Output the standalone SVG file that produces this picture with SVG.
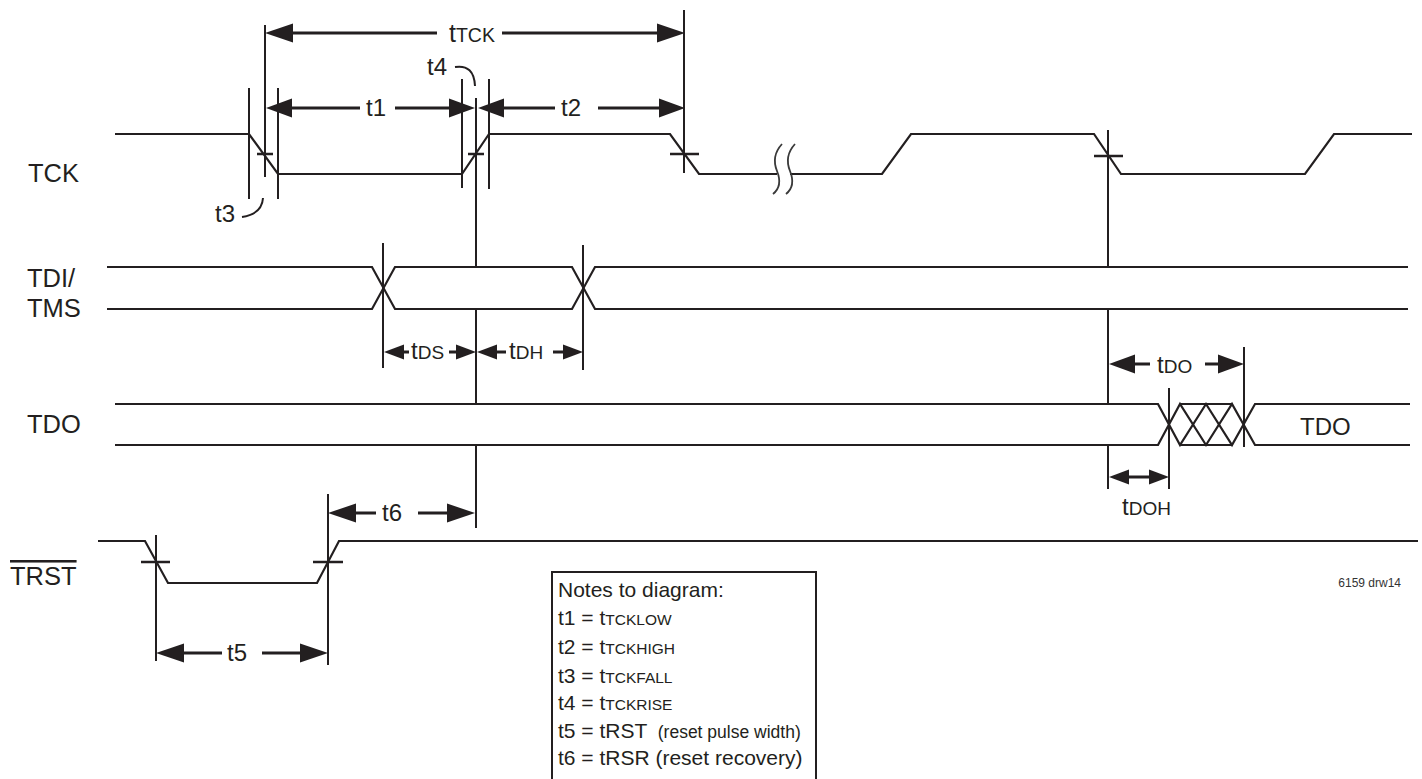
<svg xmlns="http://www.w3.org/2000/svg" xmlns:xlink="http://www.w3.org/1999/xlink" width="1422" height="779" viewBox="0 0 1422 779">
<style>
.sig{fill:none;stroke:#231f20;stroke-width:2.2;stroke-linejoin:miter}
.vl{fill:none;stroke:#231f20;stroke-width:2}
.sh{fill:none;stroke:#231f20;stroke-width:3}
.tk{fill:none;stroke:#231f20;stroke-width:2.5}
.brk{fill:none;stroke:#3a3a3a;stroke-width:1.8}
.hook{fill:none;stroke:#231f20;stroke-width:2}
.ah{fill:#231f20}
text{font-family:"Liberation Sans",Arial,Helvetica,sans-serif;fill:#231f20}
.lbl{font-size:25.5px}
.tm{font-size:24px}
.sub{font-size:19px}
.note{font-size:21px}
.ns{font-size:15.5px}
.np{font-size:17.5px}
.drw{font-size:12px;fill:#333}
</style>
<defs>
<path id="aL" class="ah" d="M0,0 L28,-9.5 L28,9.5 Z"/>
<path id="aR" class="ah" d="M0,0 L-28,-9.5 L-28,9.5 Z"/>
<path id="mL" class="ah" d="M0,0 L26,-9.5 L26,9.5 Z"/>
<path id="mR" class="ah" d="M0,0 L-26,-9.5 L-26,9.5 Z"/>
<path id="sL" class="ah" d="M0,0 L20,-7.5 L20,7.5 Z"/>
<path id="sR" class="ah" d="M0,0 L-20,-7.5 L-20,7.5 Z"/>
</defs>
<rect width="1422" height="779" fill="#ffffff"/>

<g id="labels">
<text class="lbl" x="28" y="182">TCK</text>
<text class="lbl" x="27" y="287">TDI/</text>
<text class="lbl" x="27" y="317">TMS</text>
<text class="lbl" x="27" y="433">TDO</text>
<text class="lbl" x="10" y="585" text-decoration="overline">TRST</text>
</g>

<g id="tck">
<path class="sig" d="M115,134 H249 L278,174 H462 L489,134 H670 L699,174 H777 M790,174 H882 L911,134 H1094 L1121,174 H1305 L1334,134 H1412"/>
<path class="brk" d="M782,144 Q771,156 777,171 Q783,186 773,194"/>
<path class="brk" d="M795,144 Q784,156 790,171 Q796,186 786,194"/>
</g>

<g id="tdi-tms">
<path class="sig" d="M107,267 H372 L395,309 H572 L595,267 H1408"/>
<path class="sig" d="M107,309 H372 L395,267 H572 L595,309 H1408"/>
</g>

<g id="tdo">
<path class="sig" d="M115,404 H1158 L1180,445 L1206,404 L1232,445 L1255,404 H1410"/>
<path class="sig" d="M115,445 H1158 L1180,404 L1206,445 L1232,404 L1255,445 H1410"/>
<path class="sig" d="M1180,404 H1232 M1180,445 H1232"/>
<text class="lbl" x="1300" y="435" style="font-size:24px">TDO</text>
</g>

<g id="trst">
<path class="sig" d="M98,541 H145 L168,583 H317 L339,541 H1418"/>
</g>

<g id="connectors">
<path class="vl" d="M249,88 V199 M265,25 V177 M278,88 V199 M462,79 V188 M489,79 V189 M684,10 V173"/>
<path class="vl" d="M476,98 V267 M476,309 V404 M476,445 V528"/>
<path class="vl" d="M1108,130 V267 M1108,309 V404 M1108,445 V489"/>
<path class="vl" d="M383,243 V368 M583,245 V370"/>
<path class="vl" d="M1244,347 V447 M1169,388 V489"/>
<path class="vl" d="M156,535 V661 M328,494 V665"/>
<path class="tk" d="M257,154 H273 M468,154 H484 M670,154 H699 M1094,156 H1123 M141,562 H170 M313,562 H343"/>
<path class="hook" d="M242,217 Q262,214 263,198"/>
<path class="hook" d="M455,67 Q474,64 475,86"/>

<g id="arrow-ttck">
<path class="sh" d="M285,33 H437 M502,33 H665"/>
<use xlink:href="#aL" x="265" y="33"/>
<use xlink:href="#aR" x="685" y="33"/>
<text class="tm" x="449" y="42" style="font-size:25px">t<tspan style="font-size:19.5px">TCK</tspan></text>
</g>
<g id="arrow-t1">
<path class="sh" d="M285,108 H360 M395,108 H457"/>
<use xlink:href="#mL" x="266" y="108"/>
<use xlink:href="#mR" x="475" y="108"/>
<text class="tm" x="366" y="116">t1</text>
</g>
<g id="arrow-t2">
<path class="sh" d="M497,108 H555 M598,108 H665"/>
<use xlink:href="#mL" x="478" y="108"/>
<use xlink:href="#mR" x="685" y="108"/>
<text class="tm" x="561" y="116">t2</text>
</g>
<text class="tm" x="215" y="222">t3</text>
<text class="tm" x="427" y="75">t4</text>
<g id="arrow-tds">
<path class="sh" d="M398,352 H409 M449,352 H462"/>
<use xlink:href="#sL" x="384" y="352"/>
<use xlink:href="#sR" x="476" y="352"/>
<text class="tm" x="411" y="359">t<tspan class="sub">DS</tspan></text>
</g>
<g id="arrow-tdh">
<path class="sh" d="M492,352 H506 M553,352 H568"/>
<use xlink:href="#sL" x="477" y="352"/>
<use xlink:href="#sR" x="583" y="352"/>
<text class="tm" x="509" y="359">t<tspan class="sub">DH</tspan></text>
</g>
<g id="arrow-tdo">
<path class="sh" d="M1125,364 H1150 M1205,364 H1228"/>
<use xlink:href="#mL" x="1109" y="364"/>
<use xlink:href="#mR" x="1244" y="364"/>
<text class="tm" x="1157" y="373">t<tspan class="sub">DO</tspan></text>
</g>
<g id="arrow-tdoh">
<path class="sh" d="M1125,477 H1153"/>
<use xlink:href="#sL" x="1109" y="477"/>
<use xlink:href="#sR" x="1169" y="477"/>
<text class="tm" x="1122" y="515">t<tspan class="sub">DOH</tspan></text>
</g>
<g id="arrow-t6">
<path class="sh" d="M345,513 H376 M418,513 H458"/>
<use xlink:href="#aL" x="328" y="513"/>
<use xlink:href="#aR" x="475" y="513"/>
<text class="tm" x="382" y="521">t6</text>
</g>
<g id="arrow-t5">
<path class="sh" d="M173,653 H222 M262,653 H311"/>
<use xlink:href="#aL" x="156" y="653"/>
<use xlink:href="#aR" x="328" y="653"/>
<text class="tm" x="227" y="661">t5</text>
</g>
</g>

<g id="notes">
<rect x="552" y="572" width="264" height="220" fill="none" stroke="#231f20" stroke-width="2"/>
<text class="note" x="558" y="597">Notes to diagram:</text>
<text class="note" x="558" y="625">t1 = t<tspan class="ns">TCKLOW</tspan></text>
<text class="note" x="558" y="654">t2 = t<tspan class="ns">TCKHIGH</tspan></text>
<text class="note" x="558" y="683">t3 = t<tspan class="ns">TCKFALL</tspan></text>
<text class="note" x="558" y="710">t4 = t<tspan class="ns">TCKRISE</tspan></text>
<text class="note" x="558" y="738">t5 = tRST <tspan class="np" dx="5">(reset pulse width)</tspan></text>
<text class="note" x="558" y="765">t6 = tRSR (reset recovery)</text>
</g>

<g id="drawing-id">
<text class="drw" x="1401" y="587" text-anchor="end">6159 drw14</text>
</g>
</svg>
